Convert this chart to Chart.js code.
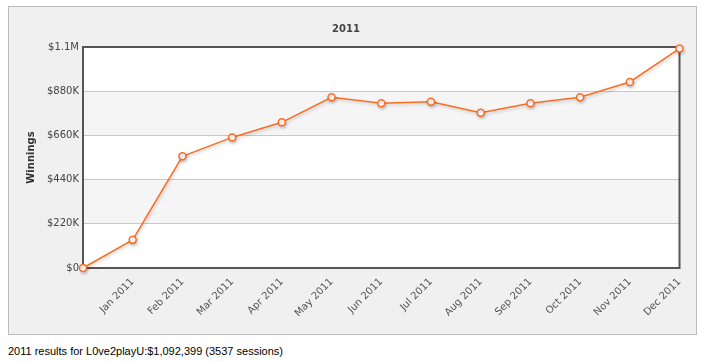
<!DOCTYPE html>
<html>
<head>
<meta charset="utf-8">
<script src="https://cdn.jsdelivr.net/npm/chart.js@4/dist/chart.umd.min.js"></script>
<style>
  body { margin: 0; background: #fff; }
  #panel {
    position: absolute; left: 8px; top: 6px; width: 687px; height: 327px;
    background: #f0f0f0; border: 1px solid #bbb;
  }
  #caption {
    position: absolute; left: 8px; top: 345px;
    font: 11px "Liberation Sans", Arial, sans-serif; color: #000;
  }
</style>
</head>
<body>
<div id="panel"><canvas id="chart" width="687" height="327"></canvas></div>
<div id="caption">2011 results for L0ve2playU:$1,092,399 (3537 sessions)</div>
<script>
const months = ["", "Jan 2011", "Feb 2011", "Mar 2011", "Apr 2011", "May 2011", "Jun 2011",
  "Jul 2011", "Aug 2011", "Sep 2011", "Oct 2011", "Nov 2011", "Dec 2011"];
const winnings = [0, 140000, 556000, 650000, 725000, 850000, 820000, 828000, 773000, 820000, 850000, 926000, 1092399];
const yTicks = [0, 220000, 440000, 660000, 880000, 1100000];

const fmtMoney = v => v === 0 ? "$0" : v >= 1e6 ? "$" + (v / 1e6) + "M" : "$" + (v / 1000) + "K";

// striped bands + white plot background
const bands = {
  id: "bands",
  beforeDraw(chart) {
    const { ctx, chartArea: a, scales: { y } } = chart;
    ctx.save();
    ctx.fillStyle = "#fff";
    ctx.fillRect(a.left, a.top, a.right - a.left, a.bottom - a.top);
    ctx.fillStyle = "#f5f5f5";
    for (let i = 1; i < yTicks.length - 1; i += 2) {
      const y1 = y.getPixelForValue(yTicks[i + 1]);
      const y0 = y.getPixelForValue(yTicks[i]);
      ctx.fillRect(a.left, y1, a.right - a.left, y0 - y1);
    }
    ctx.restore();
  },
  beforeDatasetsDraw(chart) {
    const { ctx, chartArea: a } = chart;
    ctx.save();
    ctx.strokeStyle = "#555";
    ctx.lineWidth = 2;
    ctx.strokeRect(a.left, a.top, a.right - a.left, a.bottom - a.top);
    ctx.restore();
  },
  beforeDatasetDraw(chart) {
    const ctx = chart.ctx;
    ctx.save();
    ctx.shadowColor = "rgba(0,0,0,0.18)";
    ctx.shadowOffsetX = 1;
    ctx.shadowOffsetY = 2;
    ctx.shadowBlur = 3;
  },
  afterDatasetDraw(chart) {
    chart.ctx.restore();
  }
};

new Chart(document.getElementById("chart"), {
  type: "line",
  data: {
    labels: months,
    datasets: [{
      data: winnings,
      borderColor: "#ff6a1f",
      borderWidth: 1.5,
      pointRadius: 3.5,
      pointBackgroundColor: "#fff",
      pointBorderColor: "#ff6a1f",
      pointBorderWidth: 1.5,
      tension: 0,
      clip: false
    }]
  },
  options: {
    responsive: false,
    animation: false,
    layout: { padding: { top: 0, right: 13, left: 0, bottom: 0 } },
    plugins: {
      legend: { display: false },
      tooltip: { enabled: false },
      title: {
        display: true,
        text: "2011",
        color: "#444",
        font: { family: "DejaVu Sans", size: 10, weight: "bold" },
        padding: { top: 16, bottom: 12 }
      }
    },
    scales: {
      x: {
        grid: { display: false, drawTicks: false },
        border: { display: false },
        ticks: {
          color: "#555",
          font: { family: "DejaVu Sans", size: 10 },
          minRotation: 45, maxRotation: 45,
          autoSkip: false,
          padding: 8
        },
        afterFit(s) { s.height = 66; }
      },
      y: {
        min: 0, max: 1100000,
        afterBuildTicks(s) { s.ticks = yTicks.map(v => ({ value: v })); },
        grid: { color: "#c8c8c8", lineWidth: 1, drawTicks: false },
        border: { display: false },
        ticks: {
          color: "#444",
          font: { family: "DejaVu Sans", size: 10 },
          padding: 4,
          callback: v => fmtMoney(v)
        },
        title: {
          display: true,
          text: "Winnings",
          color: "#333",
          font: { family: "DejaVu Sans", size: 10, weight: "bold" },
          padding: { top: 16, bottom: 0 }
        },
        afterFit(s) { s.width = 74; }
      }
    }
  },
  plugins: [bands]
});
</script>
</body>
</html>
